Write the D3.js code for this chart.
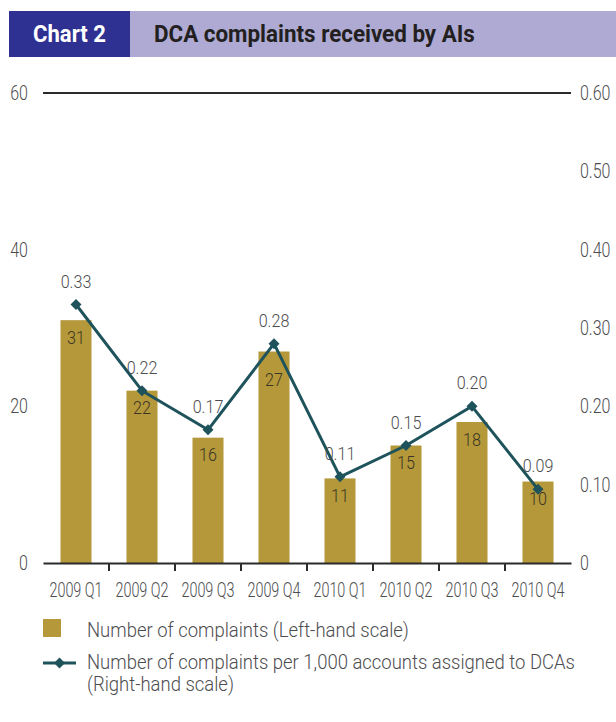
<!DOCTYPE html>
<html>
<head>
<meta charset="utf-8">
<script src="https://cdn.jsdelivr.net/npm/d3@7"></script>
<style>
  html, body { margin: 0; padding: 0; background: #fff; }
  svg { display: block; }
  text { font-family: Roboto, "Noto Sans", sans-serif; }
</style>
</head>
<body>
<svg id="chart" width="616" height="722"></svg>
<script>
// ---- data ----
const categories = ["2009 Q1", "2009 Q2", "2009 Q3", "2009 Q4", "2010 Q1", "2010 Q2", "2010 Q3", "2010 Q4"];
const complaints = [31, 22, 16, 27, 10.8, 15, 18, 10.4];
const perThousand = [0.33, 0.22, 0.17, 0.28, 0.11, 0.15, 0.20, 0.094];
const leftTicks = [0, 20, 40, 60];
const rightTicks = [0, 0.1, 0.2, 0.3, 0.4, 0.5, 0.6];
const chartNumber = "Chart 2";
const chartTitle = "DCA complaints received by AIs";
const legendBars = "Number of complaints (Left-hand scale)";
const legendLine = ["Number of complaints per 1,000 accounts assigned to DCAs", "(Right-hand scale)"];

// ---- style ----
const barColor = "#b4983a";
const lineColor = "#1e535b";
const axisColor = "#2b2b2b";
const textColor = "#4d4d4f";

const svg = d3.select("#chart");

// condense text horizontally (reference uses a condensed DIN-like face)
function condense(sel, s) {
  sel.each(function () {
    const t = d3.select(this);
    const x = +t.attr("x") || 0, y = +t.attr("y") || 0;
    t.attr("x", 0).attr("y", 0).attr("transform", `translate(${x},${y}) scale(${s},1)`);
  });
}
function fitWidth(sel, w) {
  const len = sel.node().getComputedTextLength();
  return w / len;
}

// header
svg.append("rect").attr("x", 9).attr("y", 11).attr("width", 607).attr("height", 46).attr("fill", "#aeaad3");
svg.append("rect").attr("x", 9).attr("y", 11).attr("width", 121).attr("height", 46).attr("fill", "#2e3192");
const hn = svg.append("text").attr("x", 33).attr("y", 42).attr("fill", "#fff")
  .attr("font-size", 24).attr("font-weight", "bold").text(chartNumber);
condense(hn, fitWidth(hn, 73));
const ht = svg.append("text").attr("x", 154).attr("y", 42).attr("fill", "#231f20")
  .attr("font-size", 24).attr("font-weight", "bold").text(chartTitle);
condense(ht, fitWidth(ht, 321));

// scales
const plot = { left: 43, right: 571, top: 93, bottom: 563 };
const x = d3.scaleBand().domain(categories).range([plot.left, plot.right])
  .paddingInner(0.53).paddingOuter(0.265);
const yL = d3.scaleLinear().domain([0, 60]).range([plot.bottom, plot.top]);
const yR = d3.scaleLinear().domain([0, 0.6]).range([plot.bottom, plot.top]);

// top rule at 60
svg.append("line").attr("x1", plot.left).attr("x2", plot.right)
  .attr("y1", yL(60)).attr("y2", yL(60)).attr("stroke", axisColor).attr("stroke-width", 2);

// left axis
const gL = svg.append("g").attr("transform", `translate(${plot.left},0)`)
  .call(d3.axisLeft(yL).tickValues(leftTicks).tickSize(0).tickPadding(15));
gL.select(".domain").remove();
gL.selectAll("text").attr("font-size", 20).attr("fill", textColor).attr("font-family", "Roboto").attr("font-weight", 300);
condense(gL.selectAll("text"), 0.8);

// right axis
const gR = svg.append("g").attr("transform", `translate(${plot.right},0)`)
  .call(d3.axisRight(yR).tickValues(rightTicks).tickSize(0).tickPadding(9)
    .tickFormat(d => d === 0 ? "0" : d3.format(".2f")(d)));
gR.select(".domain").remove();
gR.selectAll("text").attr("font-size", 20).attr("fill", textColor).attr("font-family", "Roboto").attr("font-weight", 300);
condense(gR.selectAll("text"), 0.8);

// bars
svg.append("g").selectAll("rect").data(categories).join("rect")
  .attr("x", d => x(d)).attr("width", x.bandwidth())
  .attr("y", (d, i) => yL(complaints[i]))
  .attr("height", (d, i) => yL(0) - yL(complaints[i]))
  .attr("fill", barColor);

// bottom axis
const gB = svg.append("g").attr("transform", `translate(0,${plot.bottom})`)
  .call(d3.axisBottom(x).tickSize(0).tickPadding(20));
gB.select(".domain").attr("stroke", axisColor).attr("stroke-width", 2);
gB.selectAll(".tick text").attr("font-size", 20).attr("fill", textColor).attr("font-family", "Roboto").attr("font-weight", 300);
condense(gB.selectAll(".tick text"), 0.72);
// boundary ticks between categories
gB.append("g").selectAll("line").data(categories.slice(1)).join("line")
  .attr("x1", d => x(d) - x.step() * x.paddingInner() / 2)
  .attr("x2", d => x(d) - x.step() * x.paddingInner() / 2)
  .attr("y1", 0).attr("y2", 8)
  .attr("stroke", axisColor).attr("stroke-width", 2);

// line geometry helpers
const cx = d => x(d) + x.bandwidth() / 2;
const pts = perThousand.map((v, i) => [cx(categories[i]), yR(v)]);
// does the line pass through a label centred at (lx, ly)?
function lineHits(lx, ly, halfW) {
  for (let k = 0; k < pts.length - 1; k++) {
    const [x1, y1] = pts[k], [x2, y2] = pts[k + 1];
    if ((ly - y1) * (ly - y2) > 0) continue;
    const xi = x1 + (x2 - x1) * (ly - y1) / (y2 - y1);
    if (Math.abs(xi - lx) < halfW + 6) return true;
  }
  return false;
}

// bar value labels
const bl = svg.append("g").selectAll("text").data(categories).join("text")
  .attr("x", d => cx(d))
  .attr("y", (d, i) => {
    const c = yL(complaints[i]) + 17;
    return (lineHits(cx(d), c, 9) ? c + 11 : c) + 6.5;
  })
  .attr("text-anchor", "middle").attr("font-size", 19).attr("font-weight", 300).attr("fill", "#3a3524")
  .text((d, i) => d3.format(".0f")(complaints[i]));
condense(bl, 0.85);

// line series
const line = d3.line().x((d, i) => cx(categories[i])).y(d => yR(d));
svg.append("path").datum(perThousand).attr("d", line)
  .attr("fill", "none").attr("stroke", lineColor).attr("stroke-width", 3)
  .attr("stroke-linejoin", "round");
const diamond = "M0,-5.5L5.5,0L0,5.5L-5.5,0Z";
svg.append("g").selectAll("path").data(perThousand).join("path")
  .attr("d", diamond)
  .attr("transform", (d, i) => `translate(${cx(categories[i])},${yR(d)})`)
  .attr("fill", lineColor);
const ll = svg.append("g").selectAll("text").data(perThousand).join("text")
  .attr("x", (d, i) => cx(categories[i]))
  .attr("y", d => yR(d) - 17)
  .attr("text-anchor", "middle").attr("font-size", 19).attr("font-weight", 300).attr("fill", textColor)
  .text(d => d3.format(".2f")(d));
condense(ll, 0.85);

// legend
const lg = svg.append("g");
lg.append("rect").attr("x", 43).attr("y", 619).attr("width", 18).attr("height", 18).attr("fill", barColor);
lg.append("line").attr("x1", 43).attr("x2", 76).attr("y1", 663).attr("y2", 663)
  .attr("stroke", lineColor).attr("stroke-width", 3);
lg.append("path").attr("d", diamond).attr("transform", "translate(59.5,663)").attr("fill", lineColor);
const legendTexts = [legendBars, ...legendLine];
const lt = lg.selectAll("text.leg").data(legendTexts).join("text").attr("class", "leg")
  .attr("x", 87).attr("y", (d, i) => i === 0 ? 637 : 669 + (i - 1) * 22)
  .attr("font-size", 20).attr("font-weight", 300).attr("fill", textColor).text(d => d);
const legScale = fitWidth(lt.filter((d, i) => i === 1), 488);
condense(lt, legScale);
</script>
</body>
</html>
